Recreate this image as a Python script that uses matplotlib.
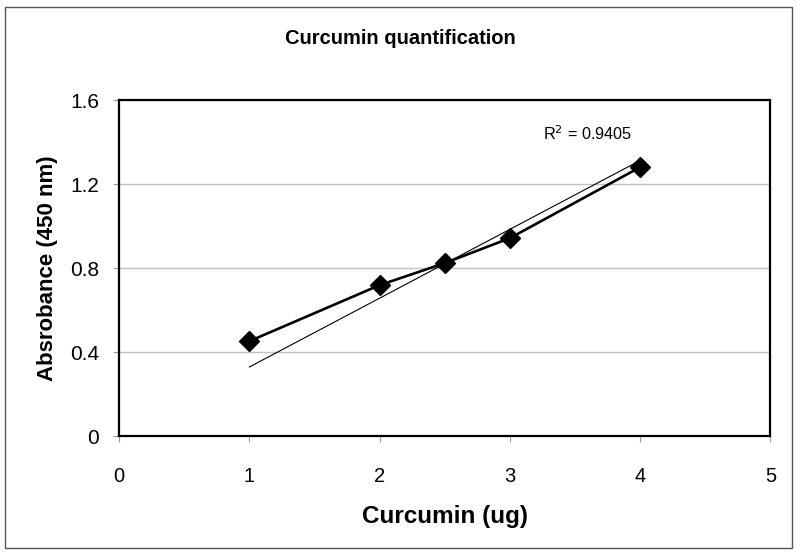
import matplotlib.pyplot as plt
from matplotlib.patches import Rectangle

plt.rcParams['font.family'] = ['Liberation Sans', 'DejaVu Sans']

# Data
curcumin_ug = [1, 2, 2.5, 3, 4]
absorbance = [0.452, 0.719, 0.824, 0.943, 1.281]

# Trend line as drawn (linear), with its reported R^2
trend_x = [1, 4]
trend_slope = 0.328
trend_intercept = 0.001
r_squared = 0.9405

x_ticks = [0, 1, 2, 3, 4, 5]
y_ticks = [0, 0.4, 0.8, 1.2, 1.6]
y_tick_labels = ["0", "0.4", "0.8", "1.2", "1.6"]

fig = plt.figure(figsize=(8, 5.55), dpi=100)
ax = fig.add_axes([0.149, 0.2144, 0.814, 0.605])

# Outer chart border
fig.patches.append(Rectangle((0.006, 0.0126), 0.984, 0.975, transform=fig.transFigure,
                             fill=False, edgecolor="#555555", linewidth=1))

# Gridlines
ax.set_axisbelow(True)
ax.grid(axis="y", color="#c0c0c0", linewidth=1)

# Data series
ax.plot(curcumin_ug, absorbance, color="black", linewidth=1.9,
        marker="D", markersize=10.5, zorder=3)

# Trend line
trend_y = [trend_slope * x + trend_intercept for x in trend_x]
ax.plot(trend_x, trend_y, color="black", linewidth=0.8, zorder=2)
ax.text(3.256, 1.44, "R$^2$ = %.4f" % r_squared, fontsize=11.7, va="center", ha="left")

ax.set_xlim(0, 5)
ax.set_ylim(0, 1.6)
ax.set_xticks(x_ticks)
ax.set_yticks(y_ticks)
ax.set_yticklabels(y_tick_labels)
ax.tick_params(axis="x", direction="out", length=4.3, color="#999999", labelsize=14.5, pad=18)
ax.tick_params(axis="y", direction="out", length=4.3, color="#999999", labelsize=15, pad=10)

for spine in ax.spines.values():
    spine.set_linewidth(1.6)
    spine.set_color("black")

ax.set_xlabel("Curcumin (ug)", fontsize=17.5, fontweight="bold", labelpad=14)
ax.set_ylabel("Absrobance (450 nm)", fontsize=16, fontweight="bold", labelpad=9)

fig.text(0.5, 0.931, "Curcumin quantification", fontsize=14.5, fontweight="bold",
         ha="center", va="center")

fig.savefig("out.png", dpi=100)
